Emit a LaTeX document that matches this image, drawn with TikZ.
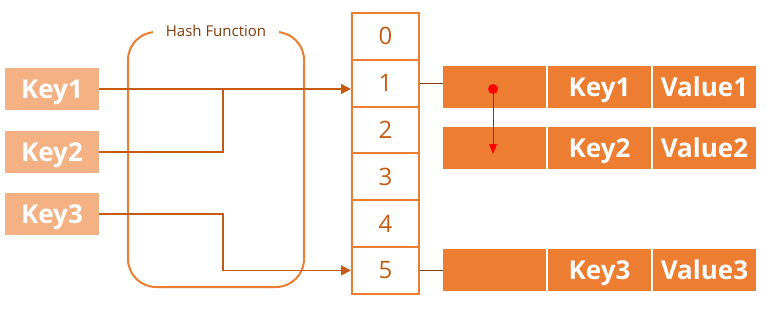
\documentclass[tikz,border=0pt]{standalone}
\usepackage{fontspec}
\setmainfont{Open Sans}
\usetikzlibrary{arrows.meta,positioning}
\definecolor{hfOrange}{HTML}{ED7D31}
\definecolor{hfLight}{HTML}{F4B183}
\definecolor{hfRust}{HTML}{C55A11}
\definecolor{hfBrown}{HTML}{843C0C}
\tikzset{
  keybox/.style={
    fill=hfLight,
    text=white,
    font=\fontsize{26}{26}\selectfont\bfseries,
    minimum width=94pt,
    minimum height=42pt,
    text height=18.5pt,
    text depth=0pt,
    inner sep=0pt,
    outer sep=0pt
  },
  slot/.style={
    draw=hfOrange,
    line width=2pt,
    text=hfRust,
    font=\fontsize{24}{24}\selectfont,
    minimum width=67pt,
    minimum height=46.8pt,
    text height=17pt,
    text depth=0pt,
    inner sep=0pt
  },
  entry/.style={
    fill=hfOrange,
    text=white,
    font=\fontsize{26}{26}\selectfont\bfseries,
    minimum width=103pt,
    minimum height=42pt,
    text height=18.5pt,
    text depth=0pt,
    inner sep=0pt,
    outer sep=0pt
  },
  hashbox/.style={
    draw=hfOrange,
    line width=2pt,
    rounded corners=28pt,
    minimum width=176pt,
    minimum height=255pt
  },
  link/.style={draw=hfRust, line width=1.3pt},
  linkarrow/.style={link, -{Triangle[length=10pt,width=10pt]}},
  chain/.style={draw=hfBrown, line width=1pt},
  nextptr/.style={draw=red, line width=1pt, -{Triangle[length=10pt,width=8pt]}}
}
\begin{document}
\begin{tikzpicture}[x=1pt, y=-1pt]
  \useasboundingbox (0,0) rectangle (767,311);

  % hash function box
  \node[hashbox] (hf) at (216,159.5) {};
  \node[fill=white, text=hfBrown, font=\fontsize{15}{15}\selectfont,
        inner xsep=13pt, inner ysep=2pt] (hfLabel) at (hf.north) {Hash Function};

  % keys
  \node[keybox] (key1) at (52,89) {Key1};
  \node[keybox] (key2) at (52,152) {Key2};
  \node[keybox] (key3) at (52,214) {Key3};

  % bucket array
  \foreach \i in {0,...,5}
    \node[slot] (s\i) at (385.5,{36.4+46.8*\i}) {\i};

  % chained entries
  \node[entry] (p1) at (494.5,87) {};
  \node[entry, right=2pt of p1] (k1) {Key1};
  \node[entry, right=2pt of k1] (v1) {Value1};
  \node[entry] (p2) at (494.5,148) {};
  \node[entry, right=2pt of p2] (k2) {Key2};
  \node[entry, right=2pt of k2] (v2) {Value2};
  \node[entry] (p3) at (494.5,270) {};
  \node[entry, right=2pt of p3] (k3) {Key3};
  \node[entry, right=2pt of k3] (v3) {Value3};

  \coordinate (join) at (223,0);
  \draw[linkarrow] (key1.east) -- (key1.east -| s1.west);
  \draw[link] (key2.east) -| (join |- key1.east);
  \draw[linkarrow] (key3.east) -| (join |- s5.west) -- (s5.west);

  \draw[chain] (s1.east) -- (s1.east -| p1.west);
  \draw[chain] (s5.east) -- (s5.east -| p3.west);

  \node[circle, fill=red, minimum size=10pt, inner sep=0pt] (dot) at ([shift={(-1.5pt,-2pt)}]p1.center) {};
  \draw[nextptr] (dot.center) -- ([xshift=-1.5pt, yshift=-6pt]p2.center);
\end{tikzpicture}
\end{document}
